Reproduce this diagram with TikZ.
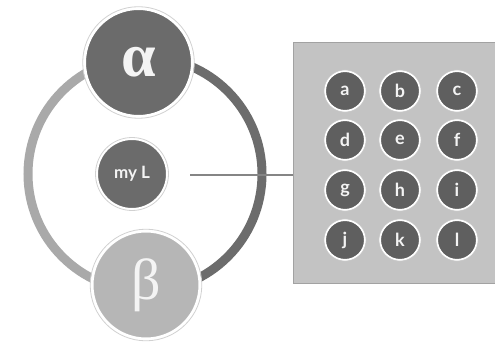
\documentclass[tikz,border=0pt]{standalone}
\usepackage{fontspec}
\setmainfont{Liberation Serif}
\newfontfamily\lblfont{Lato}
\definecolor{darkc}{HTML}{6B6B6B}
\definecolor{keyc}{HTML}{5F5F5F}
\definecolor{lightc}{HTML}{B6B6B6}
\definecolor{ringl}{HTML}{A9A9A9}
\definecolor{ringr}{HTML}{6C6C6C}
\definecolor{boxc}{HTML}{C3C3C3}
\definecolor{boxe}{HTML}{A2A2A2}
\definecolor{linec}{HTML}{858585}
\definecolor{txtc}{HTML}{F4F4F4}
\tikzset{
  bignode/.style={circle, inner sep=0pt, minimum size=108pt, draw=white, line width=3pt, text=txtc},
  halo/.style={draw=#1, line width=0.8pt},
  midnode/.style={circle, inner sep=0pt, minimum size=70pt, fill=darkc, draw=white, line width=2pt, text=txtc, font=\lblfont\bfseries\fontsize{17}{17}\selectfont},
  keynode/.style={circle, inner sep=0pt, minimum size=40pt, fill=keyc, draw=white, line width=2pt, text=txtc, font=\lblfont\bfseries\fontsize{18}{18}\selectfont},
  ringarc/.style={line width=9pt},
  panel/.style={draw=boxe, fill=boxc, line width=1pt, inner sep=0pt},
  link/.style={draw=linec, line width=2pt}
}
\begin{document}
\begin{tikzpicture}[x=1pt,y=1pt]
\useasboundingbox (0,0) rectangle (495,-342);
\clip (0,0) rectangle (495,-342);
\fill[white] (0,0) rectangle (495,-342);
% ring
\coordinate (rc) at (145,-174);
\draw[ringarc, ringr] (rc) ++(90:117) arc (90:-90:117);
\draw[ringarc, ringl] (rc) ++(90:117) arc (90:270:117);
% panel
\node[panel, minimum width=220pt, minimum height=241pt, anchor=north west] (box) at (293,-42) {};
% nodes
\node[bignode, fill=darkc, font=\bfseries\fontsize{62}{62}\selectfont] (alpha) at (138.5,-62.5) {α};
\draw[halo=black!18] (alpha) circle (55.8pt);
\node[bignode, fill=lightc, font=\fontsize{58}{58}\selectfont] (beta) at (146,-285) {β};
\draw[halo=black!18] (beta) circle (55.8pt);
\node[midnode] (myL) at (132,-174) {my L};
\draw[halo=black!18] (myL) circle (36.5pt);
% connector
\coordinate (lstart) at (190,-175);
\draw[link] (lstart) -- (box.west |- lstart);
% keys
\foreach \t/\x/\y in {a/345/91, b/400/91, c/457/91,
                      d/345/140, e/400/140, f/457/140,
                      g/345/190, h/400/190, i/457/190,
                      j/345/240, k/400/240, l/457/240}{
  \node[keynode] (k\t) at (\x,-\y) {\t};
  \draw[halo=black!22] (k\t) circle (21.2pt);
}
\end{tikzpicture}
\end{document}
